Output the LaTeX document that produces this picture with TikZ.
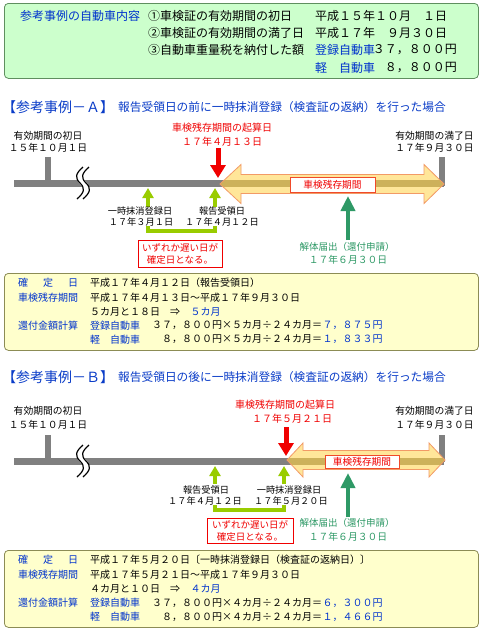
\documentclass[tikz,border=0pt]{standalone}
\usepackage{fontspec}
\setmainfont{Noto Sans CJK JP}
\usetikzlibrary{arrows.meta}
\definecolor{txtblue}{HTML}{0033CC}
\definecolor{hblue}{HTML}{0A3CC8}
\definecolor{tred}{HTML}{F00000}
\definecolor{tgreen}{HTML}{2E9966}
\definecolor{ygreen}{HTML}{99CC00}
\definecolor{bargray}{HTML}{808080}
\definecolor{arrfill}{HTML}{FFE699}
\definecolor{arrband}{HTML}{CDB15A}
\definecolor{arrdraw}{HTML}{F29A66}
\definecolor{perdraw}{HTML}{F04A2A}
\definecolor{topfill}{HTML}{CCFFCC}
\definecolor{topdraw}{HTML}{5F8F5F}
\definecolor{yfill}{HTML}{FFFFCC}
\definecolor{ydraw}{HTML}{8C8C55}
\tikzset{
 tb/.style={inner sep=0pt, anchor=west, font=\fontsize{12}{14}\selectfont},
 bt/.style={inner sep=0pt, anchor=west, font=\fontsize{10}{12}\selectfont},
 tl/.style={inner sep=0pt, font=\fontsize{9.8}{11}\selectfont},
 sl/.style={inner sep=0pt, font=\fontsize{9.2}{10}\selectfont},
 hbig/.style={inner sep=0pt, anchor=west, text=hblue, font=\fontsize{14}{16}\selectfont},
 hsmall/.style={inner sep=0pt, anchor=west, text=hblue, font=\fontsize{11.7}{13}\selectfont},
 infobox/.style={rounded corners=4pt, line width=0.8pt, minimum width=474pt, minimum height=77pt, inner sep=0pt, anchor=north west},
 bar/.style={draw=bargray, line width=7pt},
 tick/.style={draw=bargray, line width=6pt},
 redarr/.style={draw=tred, line width=5pt, -{Triangle[length=13pt,width=15pt]}},
 ygarr/.style={draw=ygreen, line width=4pt, -{Triangle[length=10pt,width=11pt]}},
 ygbr/.style={draw=ygreen, line width=4pt},
 grarr/.style={draw=tgreen, line width=4.5pt, -{Triangle[length=15pt,width=14pt]}},
 note/.style={draw=tred, fill=white, line width=0.8pt, minimum width=84pt, minimum height=27pt, inner sep=0pt, align=center, text=tred, font=\fontsize{9.5}{12}\selectfont},
 perbox/.style={draw=perdraw, fill=white, line width=0.8pt, inner sep=0pt, text=tred, font=\fontsize{9.7}{11}\selectfont},
 dbl/.style={fill=arrfill, draw=arrdraw, line width=0.8pt, line join=miter},
 brkwhite/.style={draw=white, line width=6pt},
 brkline/.style={draw=black, line width=1.2pt}
}
\begin{document}
\begin{tikzpicture}[x=1pt,y=-1pt]
\useasboundingbox (0,0) rectangle (484,632);
\fill[white] (0,0) rectangle (484,632);

% ---------- top box ----------
\node[infobox, draw=topdraw, fill=topfill, minimum height=75pt] (topbox) at (4,3) {};
\node[tb, text=txtblue] (t0) at (20,16) {参考事例の自動車内容};
\node[tb] (t1) at (148,16) {①車検証の有効期間の初日};
\node[tb] (t1v) at (315,16) {平成１５年１０月　１日};
\node[tb] (t2) at (148,33) {②車検証の有効期間の満了日};
\node[tb] (t2v) at (315,33) {平成１７年　９月３０日};
\node[tb] (t3) at (148,50) {③自動車重量税を納付した額};
\node[tb, text=txtblue] (t3a) at (315,50) {登録自動車};
\node[tb, anchor=east] (t3v) at (457,50) {３７，８００円};
\node[tb, text=txtblue] (t4a) at (315,68) {軽　自動車};
\node[tb, anchor=east] (t4v) at (457,68) {８，８００円};

% ---------- header A ----------
\node[hbig] (hA) at (2,107) {【参考事例－Ａ】};
\node[hsmall] (hAt) at (118,107.5) {報告受領日の前に一時抹消登録（検査証の返納）を行った場合};

% ---------- timeline A ----------
\coordinate (A-l) at (14,183);
\coordinate (A-r) at (444,183);
\coordinate (A-t1) at (48,157);
\coordinate (A-t1b) at (48,183);
\coordinate (A-t2) at (442,157);
\coordinate (A-t2b) at (442,186);
\draw[tick] (A-t1) -- (A-t1b);
\draw[tick] (A-t2) -- (A-t2b);
\draw[bar] (A-l) -- (A-r);
\draw[brkwhite] (86,167) .. controls (78,174) and (78,178) .. (83,183) .. controls (88,188) and (88,192) .. (80,199);
\draw[brkline, xshift=-3pt] (86,167) .. controls (78,174) and (78,178) .. (83,183) .. controls (88,188) and (88,192) .. (80,199);
\draw[brkline, xshift=3pt] (86,167) .. controls (78,174) and (78,178) .. (83,183) .. controls (88,188) and (88,192) .. (80,199);

\node[tl] (A-s1) at (48,136) {有効期間の初日};
\node[tl] (A-s2) at (48,147.5) {１５年１０月１日};
\node[tl] (A-e1) at (434.5,136) {有効期間の満了日};
\node[tl] (A-e2) at (434.5,147.5) {１７年９月３０日};

% double arrow A
\fill[arrfill] (220,184) -- (241,164.5) -- (241,174.5) -- (424,174.5) -- (424,164.5) -- (444,184) -- (424,203.5) -- (424,193.5) -- (241,193.5) -- (241,203.5) -- cycle;
\begin{scope}
\clip (220,184) -- (241,164.5) -- (241,174.5) -- (424,174.5) -- (424,164.5) -- (444,184) -- (424,203.5) -- (424,193.5) -- (241,193.5) -- (241,203.5) -- cycle;
\fill[arrband] (215,179.8) rectangle (450,187.2);
\end{scope}
\draw[dbl, fill=none] (220,184) -- (241,164.5) -- (241,174.5) -- (424,174.5) -- (424,164.5) -- (444,184) -- (424,203.5) -- (424,193.5) -- (241,193.5) -- (241,203.5) -- cycle;
\node[perbox, minimum width=85pt, minimum height=15pt] (A-per) at (332.5,184.5) {車検残存期間};

% red start arrow A
\node[tl, text=tred, font=\fontsize{10}{11}\selectfont] (A-r1) at (222,127.5) {車検残存期間の起算日};
\node[tl, text=tred, font=\fontsize{10}{11}\selectfont] (A-r2) at (222,142) {１７年４月１３日};
\coordinate (A-ra) at (218,148);
\coordinate (A-rb) at (218,178);
\draw[redarr] (A-ra) -- (A-rb);

% yellow-green arrows A
\coordinate (A-y1a) at (148,207);
\coordinate (A-y1b) at (148,188);
\coordinate (A-y2a) at (215,207);
\coordinate (A-y2b) at (215,188);
\draw[ygarr] (A-y1a) -- (A-y1b);
\draw[ygarr] (A-y2a) -- (A-y2b);
\node[sl] (A-k1) at (140,211) {一時抹消登録日};
\node[sl] (A-k2) at (141,221.5) {１７年３月１日};
\node[sl] (A-h1) at (222,211) {報告受領日};
\node[sl] (A-h2) at (222,221.5) {１７年４月１２日};
\coordinate (A-b1) at (148,226);
\coordinate (A-b2) at (148,231);
\coordinate (A-b3) at (215,231);
\coordinate (A-b4) at (215,226);
\draw[ygbr] (A-b1) -- (A-b2) -- (A-b3) -- (A-b4);
\node[note] (A-note) at (180,253.5) {いずれか遅い日が\\確定日となる。};

% green arrow A
\coordinate (A-ga) at (348,240);
\coordinate (A-gb) at (348,196);
\draw[grarr] (A-ga) -- (A-gb);
\node[tl, text=tgreen, font=\fontsize{9.5}{11}\selectfont] (A-g1) at (347,247) {解体届出（還付申請）};
\node[tl, text=tgreen] (A-g2) at (348,260) {１７年６月３０日};

% ---------- box A ----------
\node[infobox, draw=ydraw, fill=yfill] (boxA) at (4,273) {};
\node[bt, text=txtblue] (A-c1) at (18,283) {\makebox[60pt][s]{確\hfill 定\hfill 日}};
\node[bt] (A-v1) at (90,283) {平成１７年４月１２日（報告受領日）};
\node[bt, text=txtblue] (A-c2) at (18,297.5) {車検残存期間};
\node[bt] (A-v2) at (90,297.5) {平成１７年４月１３日～平成１７年９月３０日};
\node[bt] (A-v3) at (90,311.5) {５カ月と１８日　⇒　};
\node[bt, text=txtblue] (A-v3b) at (A-v3.east) {５カ月};
\node[bt, text=txtblue] (A-c3) at (18,325.5) {還付金額計算};
\node[bt, text=txtblue] (A-v4a) at (90,325.5) {登録自動車};
\node[bt] (A-v4) at (152,325.5) {３７，８００円×５カ月÷２４カ月＝};
\node[bt, text=txtblue] (A-v4b) at (A-v4.east) {７，８７５円};
\node[bt, text=txtblue] (A-v5a) at (90,339.5) {軽　自動車};
\node[bt, anchor=east] (A-v5) at (A-v4.east |- 0,339.5) {８，８００円×５カ月÷２４カ月＝};
\node[bt, text=txtblue] (A-v5b) at (A-v5.east) {１，８３３円};

% ---------- header B ----------
\node[hbig] (hB) at (2,377) {【参考事例－Ｂ】};
\node[hsmall] (hBt) at (118,377.5) {報告受領日の後に一時抹消登録（検査証の返納）を行った場合};

% ---------- timeline B ----------
\coordinate (B-l) at (14,461);
\coordinate (B-r) at (444,461);
\coordinate (B-t1) at (48,435);
\coordinate (B-t1b) at (48,461);
\coordinate (B-t2) at (442,435);
\coordinate (B-t2b) at (442,462);
\draw[tick] (B-t1) -- (B-t1b);
\draw[tick] (B-t2) -- (B-t2b);
\draw[bar] (B-l) -- (B-r);
\draw[brkwhite] (86,445) .. controls (78,452) and (78,456) .. (83,461) .. controls (88,466) and (88,470) .. (80,477);
\draw[brkline, xshift=-3pt] (86,445) .. controls (78,452) and (78,456) .. (83,461) .. controls (88,466) and (88,470) .. (80,477);
\draw[brkline, xshift=3pt] (86,445) .. controls (78,452) and (78,456) .. (83,461) .. controls (88,466) and (88,470) .. (80,477);

\node[tl] (B-s1) at (48,411) {有効期間の初日};
\node[tl] (B-s2) at (48,425) {１５年１０月１日};
\node[tl] (B-e1) at (434.5,411) {有効期間の満了日};
\node[tl] (B-e2) at (434.5,425) {１７年９月３０日};

% double arrow B
\fill[arrfill] (287,460) -- (303,443) -- (303,450.5) -- (429,450.5) -- (429,443) -- (445,460) -- (429,477) -- (429,469.5) -- (303,469.5) -- (303,477) -- cycle;
\begin{scope}
\clip (287,460) -- (303,443) -- (303,450.5) -- (429,450.5) -- (429,443) -- (445,460) -- (429,477) -- (429,469.5) -- (303,469.5) -- (303,477) -- cycle;
\fill[arrband] (280,457.5) rectangle (450,465);
\end{scope}
\draw[dbl, fill=none] (287,460) -- (303,443) -- (303,450.5) -- (429,450.5) -- (429,443) -- (445,460) -- (429,477) -- (429,469.5) -- (303,469.5) -- (303,477) -- cycle;
\node[perbox, minimum width=74pt, minimum height=13pt] (B-per) at (362,461.5) {車検残存期間};

% red start arrow B
\node[tl, text=tred, font=\fontsize{10}{11}\selectfont] (B-r1) at (285,405) {車検残存期間の起算日};
\node[tl, text=tred, font=\fontsize{10}{11}\selectfont] (B-r2) at (292,419) {１７年５月２１日};
\coordinate (B-ra) at (286,427);
\coordinate (B-rb) at (286,456);
\draw[redarr] (B-ra) -- (B-rb);

% yellow-green arrows B
\coordinate (B-y1a) at (215,484);
\coordinate (B-y1b) at (215,466);
\coordinate (B-y2a) at (284,484);
\coordinate (B-y2b) at (284,466);
\draw[ygarr] (B-y1a) -- (B-y1b);
\draw[ygarr] (B-y2a) -- (B-y2b);
\node[sl] (B-h1) at (206,490) {報告受領日};
\node[sl] (B-h2) at (205,500.5) {１７年４月１２日};
\node[sl] (B-k1) at (289,490) {一時抹消登録日};
\node[sl] (B-k2) at (291,500.5) {１７年５月２０日};
\coordinate (B-b1) at (215,505);
\coordinate (B-b2) at (215,510);
\coordinate (B-b3) at (284,510);
\coordinate (B-b4) at (284,505);
\draw[ygbr] (B-b1) -- (B-b2) -- (B-b3) -- (B-b4);
\node[note, minimum width=86pt, minimum height=25pt] (B-note) at (250,530.5) {いずれか遅い日が\\確定日となる。};

% green arrow B
\coordinate (B-ga) at (348,517);
\coordinate (B-gb) at (348,473);
\draw[grarr] (B-ga) -- (B-gb);
\node[tl, text=tgreen, font=\fontsize{9.5}{11}\selectfont] (B-g1) at (347,523) {解体届出（還付申請）};
\node[tl, text=tgreen] (B-g2) at (348,537) {１７年６月３０日};

% ---------- box B ----------
\node[infobox, draw=ydraw, fill=yfill] (boxB) at (4,550) {};
\node[bt, text=txtblue] (B-c1) at (18,560) {\makebox[60pt][s]{確\hfill 定\hfill 日}};
\node[bt] (B-v1) at (90,560) {平成１７年５月２０日〔一時抹消登録日（検査証の返納日）〕};
\node[bt, text=txtblue] (B-c2) at (18,575) {車検残存期間};
\node[bt] (B-v2) at (90,575) {平成１７年５月２１日～平成１７年９月３０日};
\node[bt] (B-v3) at (90,589) {４カ月と１０日　⇒　};
\node[bt, text=txtblue] (B-v3b) at (B-v3.east) {４カ月};
\node[bt, text=txtblue] (B-c3) at (18,603) {還付金額計算};
\node[bt, text=txtblue] (B-v4a) at (90,603) {登録自動車};
\node[bt] (B-v4) at (152,603) {３７，８００円×４カ月÷２４カ月＝};
\node[bt, text=txtblue] (B-v4b) at (B-v4.east) {６，３００円};
\node[bt, text=txtblue] (B-v5a) at (90,617) {軽　自動車};
\node[bt, anchor=east] (B-v5) at (B-v4.east |- 0,617) {８，８００円×４カ月÷２４カ月＝};
\node[bt, text=txtblue] (B-v5b) at (B-v5.east) {１，４６６円};
\end{tikzpicture}
\end{document}
